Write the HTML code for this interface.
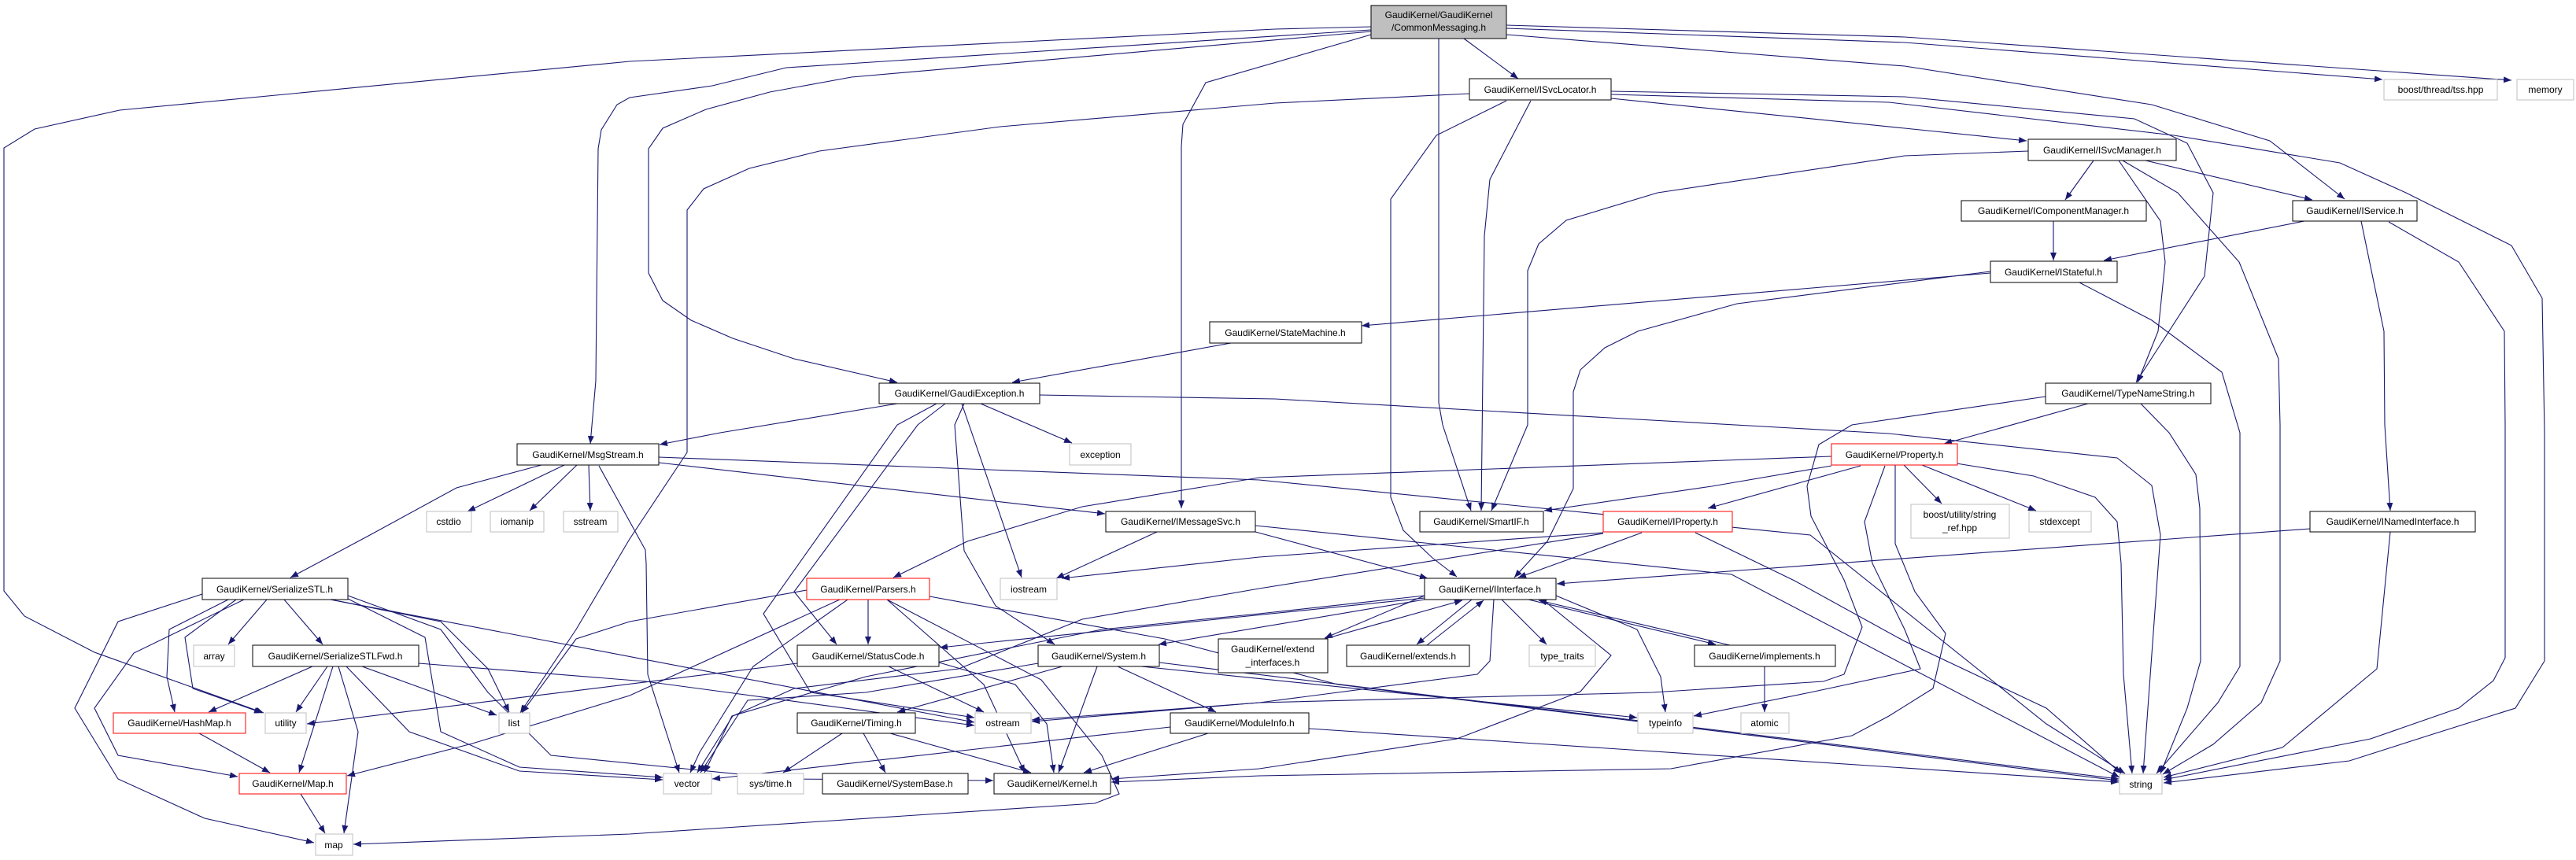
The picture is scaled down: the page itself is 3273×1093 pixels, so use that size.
<!DOCTYPE html>
<html><head><meta charset="utf-8"><style>
html,body{margin:0;padding:0;background:#fff;}
svg{display:block;}
text{font-family:"Liberation Sans",sans-serif;font-size:12px;fill:#000;text-anchor:middle;}
.e{fill:none;stroke:#191970;stroke-width:1.1;marker-end:url(#a);}
.b{fill:#fff;stroke:#000;stroke-width:1;}
.g{fill:#fff;stroke:#bfbfbf;stroke-width:1;}
.r{fill:#fff;stroke:#ff0000;stroke-width:1;}
</style></head><body>
<svg width="3273" height="1093" viewBox="0 0 3273 1093" xmlns="http://www.w3.org/2000/svg">
<defs><marker id="a" markerWidth="10" markerHeight="8" refX="10" refY="4" orient="auto" markerUnits="userSpaceOnUse"><path d="M0,0L10,4L0,8z" fill="#191970"/></marker></defs>
<rect width="3273" height="1093" fill="#fff"/>
<!-- edges from CommonMessaging -->
<path class="e" d="M1742,34 L1620,37 L800,78 L152,140 L44,164 L5,188 L5,751 L31,783 L120,829 L335,906"/>
<path class="e" d="M1742,38 L999,86 L905,109 L800,124 L784,133 L764,165 L760,189 L757,484 L750,564"/>
<path class="e" d="M1742,40 L1082,98 L978,117 L897,139 L842,163 L824,189 L824,347 L842,382 L878,407 L931,430 L1009,456 L1140,486"/>
<path class="e" d="M1742,44 L1532,105 L1503,158 L1501,186 L1501,646"/>
<path class="e" d="M1828,49 L1828,512 L1833,540 L1869,649"/>
<path class="e" d="M1860,49 L1929,100"/>
<path class="e" d="M1914,32 L2420,47 L3191,102"/>
<path class="e" d="M1914,36 L2420,54 L3027,101"/>
<path class="e" d="M1914,44 L2420,84 L2734,133 L2884,179 L2979,253"/>
<!-- ISvcLocator -->
<path class="e" d="M1867,119 L1620,131 L1271,161 L1041,192 L952,214 L894,240 L873,267 L873,575 L800,685 L732,800 L661,906"/>
<path class="e" d="M1914,128 L1825,172 L1767,253 L1767,632 L1783,674 L1820,709 L1851,733"/>
<path class="e" d="M1945,128 L1893,228 L1886,300 L1882,649"/>
<path class="e" d="M2047,116 L2420,123 L2712,151 L2779,182 L2812,245 L2801,351 L2714,486"/>
<path class="e" d="M2047,120 L2400,130 L2762,172 L2973,207 L3057,245 L3191,312 L3230,379 L3233,550 L3233,840 L3196,900 L3085,935 L2985,967 L2749,995"/>
<path class="e" d="M2047,125 L2420,163 L2575,179"/>
<!-- ISvcManager -->
<path class="e" d="M2577,192 L2420,198 L2106,245 L1990,280 L1955,310 L1941,344 L1941,540 L1895,649"/>
<path class="e" d="M2660,204 L2624,254"/>
<path class="e" d="M2726,204 L2938,254"/>
<path class="e" d="M2692,204 L2745,281 L2751,333 L2742,421 L2716,486"/>
<path class="e" d="M2697,204 L2767,245 L2845,333 L2895,456 L2897,540 L2897,840 L2873,893 L2812,946 L2748,984"/>
<path class="e" d="M2609,281 L2609,331"/>
<path class="e" d="M2928,281 L2673,331"/>
<path class="e" d="M3000,281 L3029,421 L3030,540 L3037,649"/>
<path class="e" d="M3035,282 L3124,333 L3182,421 L3183,540 L3183,836 L3168,865 L3124,900 L3012,939 L2749,991"/>
<!-- IStateful -->
<path class="e" d="M2642,359 L2734,407 L2823,473 L2846,550 L2846,847 L2818,893 L2740,983"/>
<path class="e" d="M2529,345 L2207,386 L2081,421 L2039,442 L2008,470 L1999,498 L1999,621 L1966,688 L1924,734"/>
<path class="e" d="M2529,347 L1730,414"/>
<path class="e" d="M1564,436 L1286,486"/>
<!-- TypeNameString -->
<path class="e" d="M2653,513 L2470,564"/>
<path class="e" d="M2720,513 L2756,550 L2790,603 L2795,646 L2796,840 L2779,900 L2745,983"/>
<path class="e" d="M2599,504 L2353,540 L2311,565 L2296,618 L2301,656 L2343,737 L2366,797 L2343,857 L2317,866 L2100,880 L1600,893 L1311,915"/>
<!-- GaudiException -->
<path class="e" d="M1140,513 L915,550 L838,565"/>
<path class="e" d="M1246,513 L1362,563"/>
<path class="e" d="M1222,513 L1298,734"/>
<path class="e" d="M1201,513 L1166,540 L1009,752 L1063,819"/>
<path class="e" d="M1225,513 L1213,540 L1225,700 L1265,770 L1340,819"/>
<path class="e" d="M1190,513 L1140,540 L970,780 L1030,880 L1238,912"/>
<path class="e" d="M1321,502 L1438,504 L1620,507 L2400,551 L2690,582 L2734,617 L2745,680 L2723,983"/>
<!-- MsgStream -->
<path class="e" d="M717,591 L594,650"/>
<path class="e" d="M733,591 L673,649"/>
<path class="e" d="M748,591 L750,649"/>
<path class="e" d="M688,591 L580,620 L470,680 L369,734"/>
<path class="e" d="M761,592 L820,699 L821,716 L823,857 L863,982"/>
<path class="e" d="M837,588 L1404,653"/>
<path class="e" d="M837,581 L1600,610 L2300,680 L2600,920 L2700,983"/>
<!-- IMessageSvc -->
<path class="e" d="M1470,676 L1342,735"/>
<path class="e" d="M1595,676 L1814,735"/>
<path class="e" d="M1595,668 L2200,730 L2693,988"/>
<!-- SerializeSTL -->
<path class="e" d="M339,762 L290,819"/>
<path class="e" d="M361,762 L410,819"/>
<path class="e" d="M290,762 L215,800 L212,860 L222,905"/>
<path class="e" d="M300,762 L235,810 L245,875 L333,906"/>
<path class="e" d="M257,755 L150,790 L95,900 L150,990 L260,1040 L399,1071"/>
<path class="e" d="M310,762 L170,830 L120,900 L150,960 L302,987"/>
<path class="e" d="M420,762 L560,790 L620,850 L647,905"/>
<path class="e" d="M420,762 L1238,918"/>
<path class="e" d="M442,757 L560,800 L620,880 L700,960 L1000,990 L1262,992"/>
<path class="e" d="M440,760 L540,810 L560,930 L660,975 L842,988"/>
<!-- SerializeSTLFwd -->
<path class="e" d="M397,847 L265,905"/>
<path class="e" d="M416,847 L376,905"/>
<path class="e" d="M423,847 L380,982"/>
<path class="e" d="M430,847 L455,930 L437,1059"/>
<path class="e" d="M460,847 L631,909"/>
<path class="e" d="M440,847 L520,930 L660,980 L842,991"/>
<path class="e" d="M532,843 L820,866 L1238,922"/>
<path class="e" d="M253,932 L343,982"/>
<path class="e" d="M382,1009 L413,1059"/>
<!-- StatusCode -->
<path class="e" d="M1013,843 L390,920"/>
<path class="e" d="M1129,847 L1250,905"/>
<path class="e" d="M1193,842 L1290,870 L1330,920 L1339,982"/>
<!-- Parsers -->
<path class="e" d="M1103,762 L1103,819"/>
<path class="e" d="M1025,750 L800,790 L732,812 L663,906"/>
<path class="e" d="M1067,762 L800,884 L600,945 L441,986"/>
<path class="e" d="M1077,762 L957,847 L889,956 L877,982"/>
<path class="e" d="M1127,762 L1323,864 L1400,960 L1422,1009 L1391,1021 L800,1060 L449,1073"/>
<path class="e" d="M1181,758 L1480,812 L1700,870 L2692,992"/>
<path class="e" d="M1127,762 L1250,870 L1302,982"/>
<!-- System -->
<path class="e" d="M1350,847 L1140,905"/>
<path class="e" d="M1420,847 L1545,905"/>
<path class="e" d="M1394,847 L1345,982"/>
<path class="e" d="M1319,843 L1100,880 L950,890 L890,982"/>
<path class="e" d="M1450,847 L2080,912"/>
<path class="e" d="M1473,842 L2692,990"/>
<!-- Timing / ModuleInfo -->
<path class="e" d="M1070,932 L995,982"/>
<path class="e" d="M1097,932 L1125,982"/>
<path class="e" d="M1131,932 L1310,982"/>
<path class="e" d="M1535,932 L1377,982"/>
<path class="e" d="M1487,924 L905,990"/>
<path class="e" d="M1663,926 L2692,994"/>
<!-- IInterface -->
<path class="e" d="M1810,757 L1683,811"/>
<path class="e" d="M1683,812 L1858,763"/>
<path class="e" d="M1870,762 L1800,819"/>
<path class="e" d="M1813,820 L1885,763"/>
<path class="e" d="M1908,762 L1965,819"/>
<path class="e" d="M1942,762 L2180,819"/>
<path class="e" d="M2198,820 L1955,763"/>
<path class="e" d="M1810,760 L1194,823"/>
<path class="e" d="M1810,762 L1472,819"/>
<path class="e" d="M1977,757 L2080,800 L2110,860 L2116,905"/>
<path class="e" d="M1898,762 L1893,840 L1877,857 L1600,893 L1311,917"/>
<path class="e" d="M1960,762 L2047,833 L2008,879 L1851,939 L1600,977 L1412,990"/>
<path class="e" d="M1810,757 L1600,780 L1400,800 L1100,860 L930,910 L895,982"/>
<path class="e" d="M2242,847 L2242,905"/>
<!-- Property -->
<path class="e" d="M2327,592 L2175,618 L1962,649"/>
<path class="e" d="M2364,592 L2170,646"/>
<path class="e" d="M2327,580 L1600,607 L1375,644 L1229,688 L1135,734"/>
<path class="e" d="M2419,591 L2467,640"/>
<path class="e" d="M2442,591 L2587,649"/>
<path class="e" d="M2486,589 L2584,605 L2662,632 L2690,663 L2695,716 L2698,857 L2709,983"/>
<path class="e" d="M2395,592 L2369,663 L2379,716 L2420,800 L2440,850 L2300,880 L2152,910"/>
<path class="e" d="M2408,591 L2408,691 L2433,752 L2472,805 L2456,875 L2400,910 L2353,935 L2123,977 L1600,986 L1412,994"/>
<!-- IProperty -->
<path class="e" d="M2086,677 L2018,702 L1929,734"/>
<path class="e" d="M2154,677 L2280,738 L2420,815 L2600,900 L2695,983"/>
<path class="e" d="M2037,677 L1600,708 L1349,735"/>
<path class="e" d="M2037,678 L1600,748 L1375,787 L1218,850 L1009,875 L931,910 L886,982"/>
<!-- INamedInterface -->
<path class="e" d="M2935,672 L1978,742"/>
<path class="e" d="M3037,676 L3020,850 L2900,950 L2749,988"/>

<!-- nodes -->
<rect class="b" x="1742" y="7" width="172" height="42" fill="#bfbfbf" style="fill:#bfbfbf"/>
<text x="1828" y="23">GaudiKernel/GaudiKernel</text><text x="1828" y="39">/CommonMessaging.h</text>
<rect class="b" x="1867" y="100" width="180" height="27"/><text x="1957" y="118">GaudiKernel/ISvcLocator.h</text>
<rect class="b" x="1537" y="409" width="193" height="27"/><text x="1633" y="427">GaudiKernel/StateMachine.h</text>
<rect class="b" x="1117" y="487" width="204" height="26"/><text x="1219" y="504">GaudiKernel/GaudiException.h</text>
<rect class="g" x="3029" y="101" width="144" height="26"/><text x="3101" y="118">boost/thread/tss.hpp</text>
<rect class="g" x="3198" y="101" width="72" height="26"/><text x="3234" y="118">memory</text>
<rect class="b" x="2577" y="177" width="188" height="27"/><text x="2671" y="195">GaudiKernel/ISvcManager.h</text>
<rect class="b" x="2492" y="255" width="235" height="26"/><text x="2609" y="272">GaudiKernel/IComponentManager.h</text>
<rect class="b" x="2913" y="255" width="158" height="26"/><text x="2992" y="272">GaudiKernel/IService.h</text>
<rect class="b" x="2529" y="332" width="161" height="27"/><text x="2609" y="350">GaudiKernel/IStateful.h</text>
<rect class="b" x="2599" y="487" width="210" height="26"/><text x="2704" y="504">GaudiKernel/TypeNameString.h</text>
<rect class="b" x="657" y="564" width="180" height="27"/><text x="747" y="582">GaudiKernel/MsgStream.h</text>
<rect class="g" x="542" y="650" width="57" height="26"/><text x="570" y="667">cstdio</text>
<rect class="g" x="623" y="650" width="68" height="26"/><text x="657" y="667">iomanip</text>
<rect class="g" x="716" y="650" width="69" height="26"/><text x="750" y="667">sstream</text>
<rect class="b" x="257" y="735" width="185" height="27"/><text x="349" y="753">GaudiKernel/SerializeSTL.h</text>
<rect class="g" x="246" y="820" width="52" height="27"/><text x="272" y="838">array</text>
<rect class="b" x="321" y="820" width="211" height="27"/><text x="426" y="838">GaudiKernel/SerializeSTLFwd.h</text>
<rect class="r" x="144" y="906" width="168" height="26"/><text x="228" y="923">GaudiKernel/HashMap.h</text>
<rect class="g" x="337" y="906" width="52" height="26"/><text x="363" y="923">utility</text>
<rect class="g" x="634" y="906" width="39" height="26"/><text x="653" y="923">list</text>
<rect class="r" x="304" y="983" width="136" height="26"/><text x="372" y="1000">GaudiKernel/Map.h</text>
<rect class="g" x="401" y="1060" width="47" height="27"/><text x="424" y="1078">map</text>
<rect class="g" x="1359" y="564" width="78" height="27"/><text x="1398" y="582">exception</text>
<rect class="b" x="1405" y="650" width="190" height="26"/><text x="1500" y="667">GaudiKernel/IMessageSvc.h</text>
<rect class="r" x="1025" y="735" width="156" height="27"/><text x="1103" y="753">GaudiKernel/Parsers.h</text>
<rect class="g" x="1271" y="735" width="72" height="27"/><text x="1307" y="753">iostream</text>
<rect class="b" x="1013" y="820" width="180" height="27"/><text x="1103" y="838">GaudiKernel/StatusCode.h</text>
<rect class="b" x="1319" y="820" width="154" height="27"/><text x="1396" y="838">GaudiKernel/System.h</text>
<rect class="b" x="1013" y="906" width="150" height="26"/><text x="1088" y="923">GaudiKernel/Timing.h</text>
<rect class="g" x="1239" y="906" width="71" height="26"/><text x="1274" y="923">ostream</text>
<rect class="b" x="1487" y="906" width="176" height="26"/><text x="1575" y="923">GaudiKernel/ModuleInfo.h</text>
<rect class="g" x="843" y="983" width="61" height="26"/><text x="873" y="1000">vector</text>
<rect class="g" x="937" y="983" width="84" height="26"/><text x="979" y="1000">sys/time.h</text>
<rect class="b" x="1045" y="983" width="185" height="26"/><text x="1137" y="1000">GaudiKernel/SystemBase.h</text>
<rect class="b" x="1263" y="983" width="148" height="26"/><text x="1337" y="1000">GaudiKernel/Kernel.h</text>
<rect class="b" x="1548" y="812" width="139" height="43"/><text x="1617" y="829">GaudiKernel/extend</text><text x="1617" y="846">_interfaces.h</text>
<rect class="r" x="2327" y="564" width="160" height="27"/><text x="2407" y="582">GaudiKernel/Property.h</text>
<rect class="b" x="1804" y="650" width="157" height="26"/><text x="1882" y="667">GaudiKernel/SmartIF.h</text>
<rect class="r" x="2037" y="650" width="164" height="26"/><text x="2119" y="667">GaudiKernel/IProperty.h</text>
<rect class="b" x="1810" y="735" width="167" height="27"/><text x="1893" y="753">GaudiKernel/IInterface.h</text>
<rect class="b" x="1711" y="820" width="156" height="27"/><text x="1789" y="838">GaudiKernel/extends.h</text>
<rect class="g" x="1943" y="820" width="84" height="27"/><text x="1985" y="838">type_traits</text>
<rect class="b" x="2153" y="820" width="179" height="27"/><text x="2242" y="838">GaudiKernel/implements.h</text>
<rect class="g" x="2081" y="906" width="70" height="26"/><text x="2116" y="923">typeinfo</text>
<rect class="g" x="2212" y="906" width="61" height="26"/><text x="2242" y="923">atomic</text>
<rect class="g" x="2428" y="641" width="125" height="43"/><text x="2490" y="658">boost/utility/string</text><text x="2490" y="675">_ref.hpp</text>
<rect class="g" x="2578" y="650" width="79" height="26"/><text x="2617" y="667">stdexcept</text>
<rect class="b" x="2935" y="650" width="210" height="26"/><text x="3040" y="667">GaudiKernel/INamedInterface.h</text>
<rect class="g" x="2693" y="984" width="54" height="25"/><text x="2720" y="1001">string</text>
</svg>
</body></html>
